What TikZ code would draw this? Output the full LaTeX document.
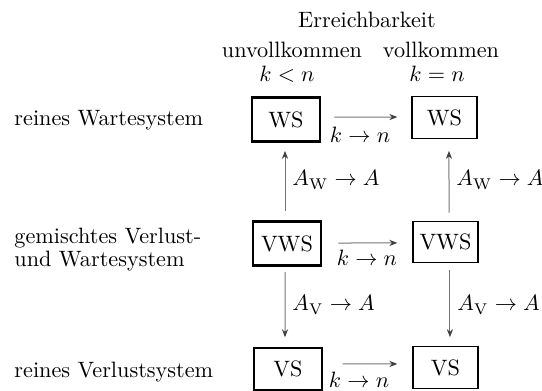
\documentclass[tikz,border=0pt]{standalone}
\usetikzlibrary{arrows.meta}
\begin{document}
\begin{tikzpicture}[x=0.45pt,y=-0.45pt,
  every node/.style={font=\fontsize{10}{8.5}\selectfont, inner sep=0pt},
  sysbox/.style={draw, line width=0.6pt, minimum width=29.25pt, minimum height=18.7pt},
  heavybox/.style={sysbox, line width=1.3pt, minimum width=30.6pt, minimum height=19.8pt},
  transition/.style={draw=black!55, line width=0.45pt,
    -{Stealth[length=3.6pt,width=2.8pt,color=black!75]}},
  rowlabel/.style={anchor=west, align=left},
  edgelabel/.style={anchor=west}]
\useasboundingbox (0,0) rectangle (542,391);

% column headings
\node (head)  at (367,20) {Erreichbarkeit};
\node (unv)   at (292,50) {unvollkommen};
\node (voll)  at (441,50) {vollkommen};
\node (kltn)  at (287,74) {$k<n$};
\node (keqn)  at (437,74) {$k=n$};

% row headings
\node[rowlabel] (rW)  at (14,120) {reines Wartesystem};
\node[rowlabel] (rVW) at (14,249.5) {gemischtes Verlust-\\und Wartesystem};
\node[rowlabel] (rV)  at (14,372) {reines Verlustsystem};

% system boxes
\node[heavybox] (wsL)  at (286,119.5) {WS};
\node[sysbox]   (wsR)  at (444.5,117.5) {WS};
\node[heavybox] (vwsL) at (287,243.5) {VWS};
\node[sysbox]   (vwsR) at (445.5,242) {VWS};
\node[sysbox, minimum width=30.6pt, minimum height=19pt] (vsL) at (288,369) {VS};
\node[sysbox]   (vsR)  at (445.5,367.5) {VS};

% k -> n transitions
\draw[transition, shorten <=5.85pt, shorten >=6.3pt]
  ([yshift=1.1pt]wsL.east) -- ([yshift=0.2pt]wsR.west);
\draw[transition, shorten <=7.2pt, shorten >=6.75pt]
  ([yshift=0.2pt]vwsL.east) -- ([yshift=-0.4pt]vwsR.west);
\draw[transition, shorten <=9pt, shorten >=6.75pt]
  ([yshift=2.25pt]vsL.east) -- ([yshift=1.6pt]vsR.west);
\node (kn1) at (360,135) {$k\to n$};
\node (kn2) at (367,258) {$k\to n$};
\node (kn3) at (359,380) {$k\to n$};

% A_W -> A transitions (upwards)
\draw[transition, shorten <=4pt, shorten >=3.6pt]
  ([xshift=-0.9pt]vwsL.north) -- ([xshift=-0.45pt]wsL.south);
\draw[transition, shorten <=3.6pt, shorten >=5.4pt]
  ([xshift=1.6pt]vwsR.north) -- ([xshift=2pt]wsR.south);
\node[edgelabel] (aw1) at (292,180) {$A_{\mathrm{W}}\to A$};
\node[edgelabel] (aw2) at (456,180) {$A_{\mathrm{W}}\to A$};

% A_V -> A transitions (downwards)
\draw[transition, shorten <=2.25pt, shorten >=4.5pt]
  ([xshift=-0.9pt]vwsL.south) -- ([xshift=-1.35pt]vsL.north);
\draw[transition, shorten <=3.15pt, shorten >=4pt]
  ([xshift=2pt]vwsR.south) -- ([xshift=2pt]vsR.north);
\node[edgelabel] (av1) at (292,305) {$A_{\mathrm{V}}\to A$};
\node[edgelabel] (av2) at (457,305) {$A_{\mathrm{V}}\to A$};
\end{tikzpicture}
\end{document}
